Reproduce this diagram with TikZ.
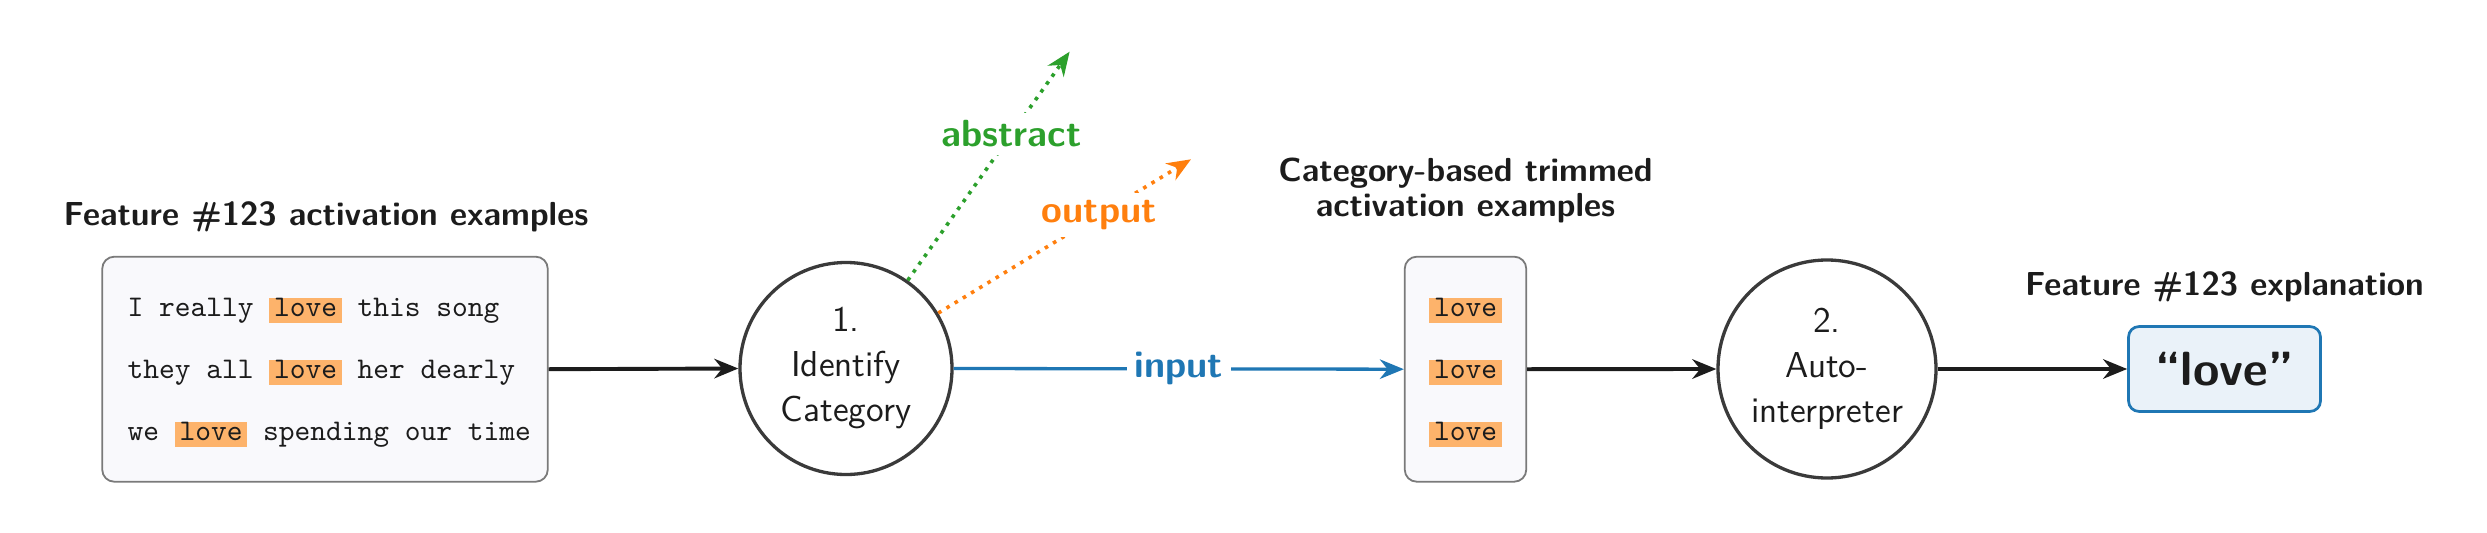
\documentclass[tikz,border=0pt]{standalone}
\usepackage{fontspec}
\usetikzlibrary{arrows.meta}
\definecolor{tabblue}{HTML}{1F77B4}
\definecolor{tabgreen}{HTML}{2CA02C}
\definecolor{taborange}{HTML}{FF7F0E}
\definecolor{hlorange}{HTML}{FDB36B}
\definecolor{boxfill}{HTML}{F9F9FC}
\definecolor{boxdraw}{HTML}{7A7A7A}
\definecolor{finalfill}{HTML}{EAF2F9}
\definecolor{circdraw}{HTML}{3A3A3A}
\definecolor{inkblack}{HTML}{1C1C1C}
\newcommand{\hlword}[1]{{\setlength{\fboxsep}{0pt}\colorbox{hlorange}{\rule[-2pt]{0pt}{7.8pt}\hspace{1.6pt}#1\hspace{1.6pt}}}}
\begin{document}
\begin{tikzpicture}[x=0.33333pt,y=-0.33333pt,
  every node/.style={text=inkblack},
  title/.style={font=\sffamily\bfseries\fontsize{11.1}{11.7}\selectfont, align=center},
  exbox/.style={draw=boxdraw, fill=boxfill, line width=0.6pt, rounded corners=4pt, minimum height=75pt, inner sep=0pt},
  exline/.style={font=\ttfamily\fontsize{10}{12}\selectfont, inner sep=0pt},
  stepcirc/.style={circle, draw=circdraw, line width=1.1pt, fill=white, inner sep=0pt, align=center, font=\sffamily\fontsize{12}{15}\selectfont},
  conn/.style={-{Stealth[length=8pt,width=6.5pt]}, line width=1.3pt},
  dotconn/.style={-{Stealth[length=8pt,width=6.5pt]}, line width=1.2pt, dash pattern=on 1.2pt off 2pt},
  lbl/.style={font=\sffamily\bfseries\fontsize{12.6}{14}\selectfont, fill=white, inner sep=2.5pt}
]
\useasboundingbox (0,0) rectangle (2487,533);

% left example box
\node[exbox, minimum width=148.5pt] (ex) at (325,369.2) {};
\node[title, anchor=base] (extitle) at (326,225) {Feature \#123 activation examples};
\node[exline, anchor=base west] (l1) at (127,316.5) {I really \hlword{love} this song};
\node[exline, anchor=base west] (l2) at (127,378.5) {they all \hlword{love} her dearly};
\node[exline, anchor=base west] (l3) at (127,440.7) {we \hlword{love} spending our time};

% step 1
\node[stepcirc, minimum size=70.67pt] (c1) at (846,368.5) {1.\\Identify\\Category};

% trimmed box
\node[exbox, minimum width=40.5pt] (mid) at (1465.5,369.2) {};
\node[title, anchor=base] (midtitle) at (1465.5,216.7) {Category-based trimmed\\activation examples};
\node[exline, anchor=base] (m1) at (1465.5,316.5) {\hlword{love}};
\node[exline, anchor=base] (m2) at (1465.5,378.5) {\hlword{love}};
\node[exline, anchor=base] (m3) at (1465.5,440.7) {\hlword{love}};

% step 2
\node[stepcirc, minimum size=72.67pt] (c2) at (1827,369) {2.\\Auto-\\interpreter};

% final
\node[draw=tabblue, fill=finalfill, line width=0.9pt, rounded corners=3.5pt, minimum width=64pt, minimum height=28.3pt, inner sep=0pt,
      font=\sffamily\bfseries\fontsize{16}{19}\selectfont] (final) at (2224.5,369) {“love”};
\node[title, anchor=base] (fintitle) at (2224.5,295) {Feature \#123 explanation};

% tips of the dotted arrows
\coordinate (gtip) at (1069.6,51.7);
\coordinate (otip) at (1191,159.3);

% connectors
\draw[conn, inkblack] (ex.east) -- (c1.west);
\draw[conn, tabblue, line width=1.1pt] (c1.east) -- node[lbl, text=tabblue] (inlbl) {input} (mid.west);
\draw[conn, inkblack] (mid.east) -- (c2.west);
\draw[conn, inkblack] (c2.east) -- (final.west);
\draw[dotconn, tabgreen] (c1.55) -- node[lbl, text=tabgreen, pos=0.64] (ablbl) {abstract} (gtip);
\draw[dotconn, taborange] (c1.31) -- node[lbl, text=taborange, pos=0.637] (oulbl) {output} (otip);
\end{tikzpicture}
\end{document}
